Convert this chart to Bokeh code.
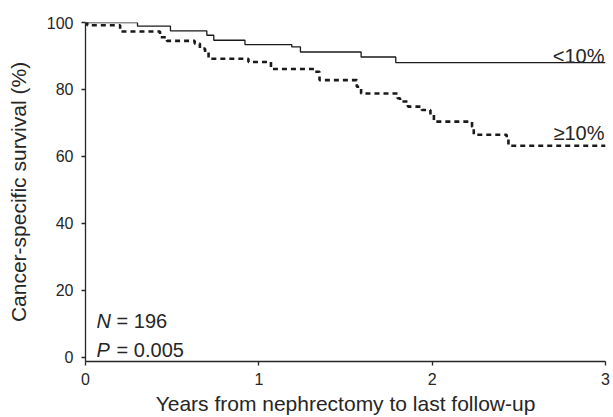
from bokeh.plotting import figure
from bokeh.models import Range1d, FixedTicker
from bokeh.core.properties import value
from bokeh.embed import file_html
from bokeh.resources import INLINE

# ---- data ----
low_times = [0, 0.30, 0.49, 0.70, 0.74, 0.92, 1.19, 1.24, 1.59, 1.79, 3.0]
low_surv = [100, 98.9, 97.5, 96.2, 94.7, 93.4, 92.7, 91.2, 89.7, 88.0, 88.0]

high_times = [0, 0.01, 0.20, 0.43, 0.47, 0.63, 0.66, 0.69, 0.71, 0.94, 1.07,
              1.32, 1.35, 1.565, 1.59, 1.80, 1.815, 1.86, 1.94, 1.99, 2.01,
              2.23, 2.24, 2.43, 2.44, 3.0]
high_surv = [100, 99.2, 97.3, 95.6, 94.5, 93.7, 92.2, 91.2, 89.2, 88.2, 86.1,
             85.3, 82.8, 80.8, 78.8, 77.4, 76.4, 74.9, 73.9, 72.4, 70.4,
             68.9, 66.5, 65.5, 63.2, 63.2]

x_ticks = [0, 1, 2, 3]
y_ticks = [0, 20, 40, 60, 80, 100]
group_labels = ["<10%", "\u226510%"]
group_label_pos = [(3.0, 90.0), (3.0, 67.0)]
n_text = ("N", "= 196")
p_text = ("P", "= 0.005")
stats_pos = [(0.064, 10.8), (0.064, 2.2)]

FONT = "Liberation Sans"
INK = "#262626"

p = figure(width=613, height=417, output_backend="svg", toolbar_location=None,
           x_range=Range1d(0, 3.0), y_range=Range1d(-1.2, 100),
           min_border_left=85, min_border_right=8, min_border_top=22,
           min_border_bottom=10)
p.outline_line_color = None
p.grid.visible = False
p.background_fill_color = "white"

p.step(low_times, low_surv, mode="after", line_color="#1a1a1a", line_width=1.3)
p.step(high_times, high_surv, mode="after", line_color="#1a1a1a", line_width=2.6,
       line_dash="5 4")

for ax in (p.xaxis[0], p.yaxis[0]):
    ax.axis_line_color = INK
    ax.axis_line_width = 1.3
    ax.major_tick_line_color = INK
    ax.major_tick_line_width = 1.3
    ax.major_tick_in = 0
    ax.major_tick_out = 4
    ax.minor_tick_line_color = None
    ax.major_label_text_font = FONT
    ax.major_label_text_font_size = "16px"
    ax.major_label_text_color = INK
    ax.axis_label_text_font = FONT
    ax.axis_label_text_font_size = "21px"
    ax.axis_label_text_font_style = "normal"
    ax.axis_label_text_color = INK

p.xaxis.ticker = FixedTicker(ticks=x_ticks)
p.yaxis.ticker = FixedTicker(ticks=y_ticks)
p.xaxis.axis_label = "Years from nephrectomy to last follow-up"
p.yaxis.axis_label = "Cancer-specific survival (%)"
p.xaxis.major_label_standoff = 7
p.yaxis.major_label_standoff = 8
p.xaxis.axis_label_standoff = 4
p.yaxis.axis_label_standoff = 14

# group labels
p.text(x=[g[0] for g in group_label_pos], y=[g[1] for g in group_label_pos],
       text=group_labels, text_align="right", text_baseline="alphabetic",
       text_font=value(FONT), text_font_size="20px", text_color=INK, x_offset=-1)

# N and P statistics
sx = [s[0] for s in stats_pos]
sy = [s[1] for s in stats_pos]
p.text(x=sx, y=sy, text=[n_text[0], p_text[0]], text_align="left",
       text_baseline="alphabetic", text_font=value(FONT), text_font_style="italic",
       text_font_size="20px", text_color=INK)
p.text(x=sx, y=sy, text=[n_text[1], p_text[1]], text_align="left",
       text_baseline="alphabetic", text_font=value(FONT),
       text_font_size="20px", text_color=INK, x_offset=20)

open("out.html", "w").write(file_html(p, INLINE))
